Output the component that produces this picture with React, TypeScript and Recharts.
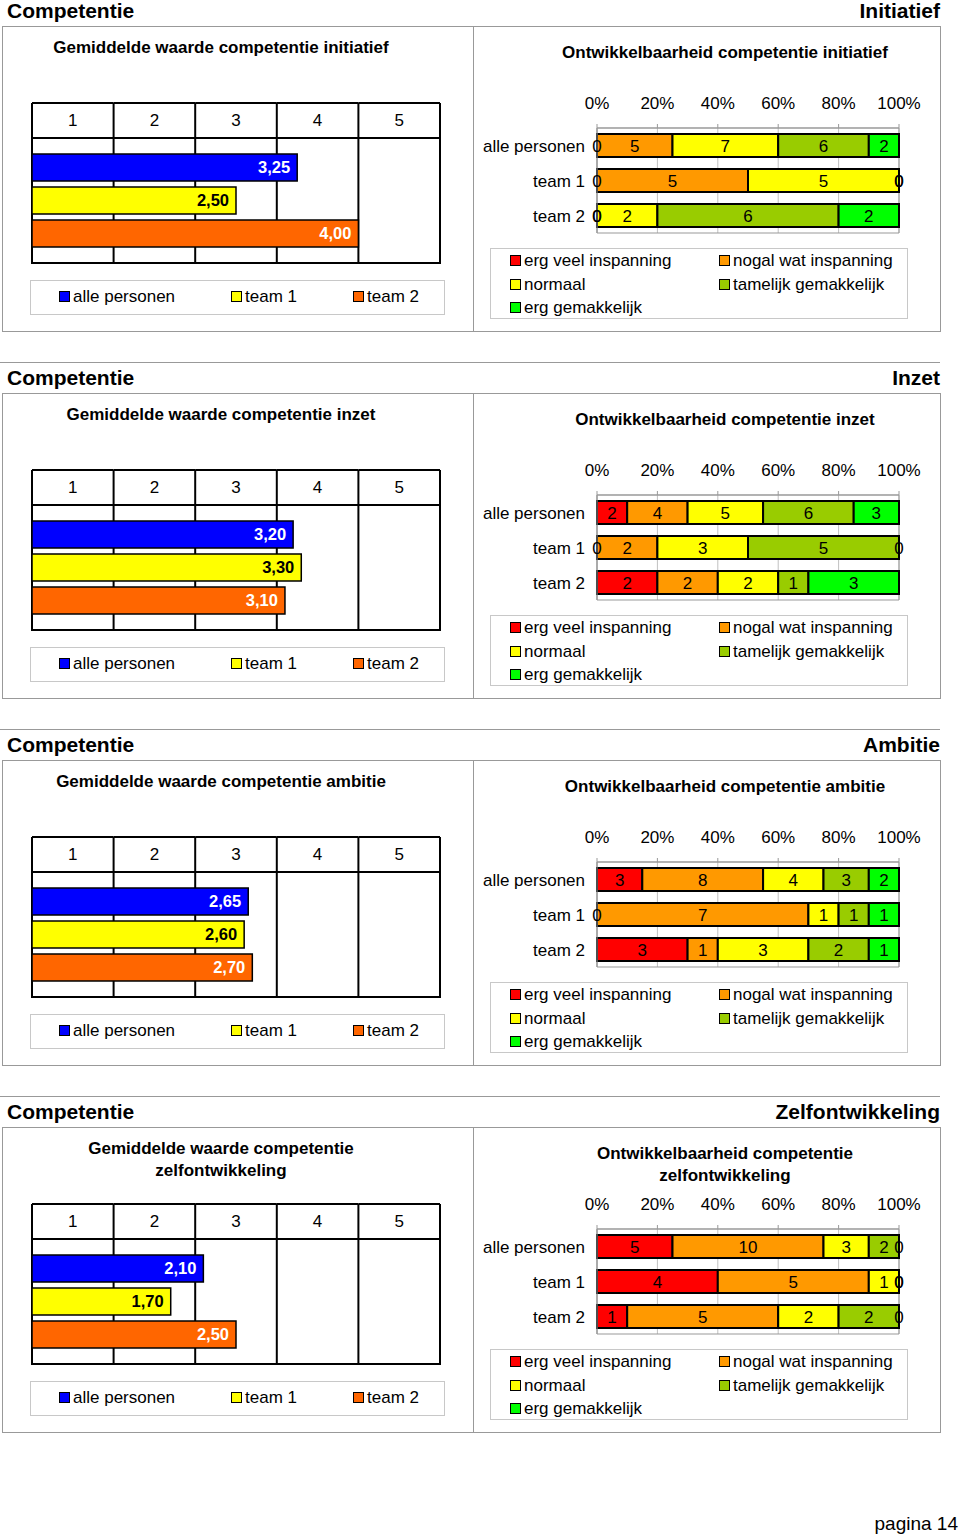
import React from 'react';
import { BarChart, ComposedChart, Bar, Scatter, XAxis, YAxis, CartesianGrid, LabelList, ReferenceArea } from 'recharts';

const FONT = '"Liberation Sans", Arial, Helvetica, sans-serif';

const COMPETENTIES = ['Initiatief', 'Inzet', 'Ambitie', 'Zelfontwikkeling'];
const AVG_TITLES = [
  ['Gemiddelde waarde competentie initiatief'],
  ['Gemiddelde waarde competentie inzet'],
  ['Gemiddelde waarde competentie ambitie'],
  ['Gemiddelde waarde competentie', 'zelfontwikkeling'],
];
const DIST_TITLES = [
  ['Ontwikkelbaarheid competentie initiatief'],
  ['Ontwikkelbaarheid competentie inzet'],
  ['Ontwikkelbaarheid competentie ambitie'],
  ['Ontwikkelbaarheid competentie', 'zelfontwikkeling'],
];

// gemiddelde waarde (schaal 1-5)
const GROUPS = ['alle personen', 'team 1', 'team 2'];
const GROUP_COLORS = ['#0000ff', '#ffff00', '#ff6600'];
const GROUP_LABEL_COLORS = ['#ffffff', '#000000', '#ffffff'];
const AVG_INITIATIEF = [3.25, 2.5, 4.0];
const AVG_INZET = [3.2, 3.3, 3.1];
const AVG_AMBITIE = [2.65, 2.6, 2.7];
const AVG_ZELF = [2.1, 1.7, 2.5];
const SCALE_GRID = [0, 1, 2, 3, 4, 5];
const SCALE_LABELS = ['1', '2', '3', '4', '5'];

// ontwikkelbaarheid (aantallen per niveau)
const LEVELS = ['erg veel inspanning', 'nogal wat inspanning', 'normaal', 'tamelijk gemakkelijk', 'erg gemakkelijk'];
const LEVEL_COLORS = ['#ff0000', '#ff9900', '#ffff00', '#99cc00', '#00ff00'];
const DIST_INITIATIEF = [[0, 5, 7, 6, 2], [0, 5, 5, 0, 0], [0, 0, 2, 6, 2]];
const DIST_INZET = [[2, 4, 5, 6, 3], [0, 2, 3, 5, 0], [2, 2, 2, 1, 3]];
const DIST_AMBITIE = [[3, 8, 4, 3, 2], [0, 7, 1, 1, 1], [3, 1, 3, 2, 1]];
const DIST_ZELF = [[5, 10, 3, 2, 0], [4, 5, 1, 0, 0], [1, 5, 2, 2, 0]];
const PCT_TICKS = [0, 0.2, 0.4, 0.6, 0.8, 1];
const PCT_LABELS = ['0%', '20%', '40%', '60%', '80%', '100%'];

const AVGS = [AVG_INITIATIEF, AVG_INZET, AVG_AMBITIE, AVG_ZELF];
const DISTS = [DIST_INITIATIEF, DIST_INZET, DIST_AMBITIE, DIST_ZELF];

const SECTION_H = 367;
const LEFT_W = 473;
const LEFT_M = { top: 13, right: 33, bottom: 17, left: 32 };
const HEADER_H = 35;
const CELL_W = (LEFT_W - LEFT_M.left - LEFT_M.right) / SCALE_LABELS.length;
const FS = 17;

const fmtComma = (v: any) => Number(v).toFixed(2).replace('.', ',');

const HeaderTick = (props: any) => {
  const { x, payload } = props;
  const i = SCALE_GRID.indexOf(payload.value);
  const top = LEFT_M.top;
  const bottom = LEFT_M.top + HEADER_H;
  return (
    <g>
      <line x1={x} x2={x} y1={top} y2={bottom} stroke="#000" strokeWidth={2} />
      {i < SCALE_LABELS.length && (
        <g>
          <line x1={x} x2={x + CELL_W} y1={top} y2={top} stroke="#000" strokeWidth={2} />
          <line x1={x} x2={x + CELL_W} y1={bottom} y2={bottom} stroke="#000" strokeWidth={2} />
          <text x={x + CELL_W / 2} y={top + 23} textAnchor="middle" fontSize={FS} fontFamily={FONT} fill="#000">
            {SCALE_LABELS[i]}
          </text>
        </g>
      )}
    </g>
  );
};

// segment label drawn on top of the stacked bars (also for empty segments)
const segLabel = (level: number) => (props: any) => {
  const { cx, cy, payload } = props;
  if (cx == null || cy == null) return <g />;
  return (
    <text x={cx} y={cy} dy="0.36em" textAnchor="middle" fontSize={FS} fontFamily={FONT} fill="#000">
      {payload['l' + level]}
    </text>
  );
};

const Swatch = ({ color }: { color: string }) => (
  <span style={{ display: 'inline-block', width: 9, height: 9, background: color, border: '1px solid #000', marginRight: 3, verticalAlign: 'middle', position: 'relative', top: -1 }} />
);

const AvgChart = ({ values }: { values: number[] }) => {
  const row: any = { cat: 'gem' };
  GROUPS.forEach((g, i) => (row['g' + i] = values[i]));
  return (
    <BarChart width={LEFT_W} height={190} data={[row]} layout="vertical" margin={LEFT_M} barSize={27} barGap={6}>
      <CartesianGrid vertical horizontal={false} stroke="#000" strokeWidth={2} />
      <XAxis type="number" orientation="top" domain={[0, 5]} ticks={SCALE_GRID} interval={0} height={HEADER_H}
        axisLine={false} tickLine={false} tick={<HeaderTick />} />
      <YAxis type="category" dataKey="cat" hide />
      <ReferenceArea x1={0} x2={5} fill="none" fillOpacity={0} stroke="#000" strokeWidth={2} />
      {GROUPS.map((g, i) => (
        <Bar key={g} dataKey={'g' + i} name={g} fill={GROUP_COLORS[i]} stroke="#000" strokeWidth={1.5} isAnimationActive={false}>
          <LabelList dataKey={'g' + i} position="insideRight" offset={7} formatter={fmtComma}
            fill={GROUP_LABEL_COLORS[i]} fontSize={16.5} fontWeight="bold" fontFamily={FONT} />
        </Bar>
      ))}
    </BarChart>
  );
};

const DistChart = ({ rows }: { rows: number[][] }) => {
  const data = GROUPS.map((g, gi) => {
    const r: any = { name: g };
    const total = rows[gi].reduce((a, b) => a + b, 0);
    let cum = 0;
    LEVELS.forEach((l, li) => {
      const v = rows[gi][li];
      r['l' + li] = v;
      r['m' + li] = (cum + v / 2) / total; // label position (share)
      cum += v;
    });
    return r;
  });
  return (
    <ComposedChart width={467} height={165} data={data} layout="vertical" stackOffset="expand" barSize={23}
      margin={{ top: 13, right: 41, bottom: 12, left: 4 }}>
      <CartesianGrid vertical horizontal={false} stroke="#c0c0c0" />
      <XAxis type="number" orientation="top" domain={[0, 1]} ticks={PCT_TICKS} interval={0} height={35}
        tickFormatter={(v: number) => PCT_LABELS[PCT_TICKS.indexOf(v)]}
        tick={{ fontSize: FS, fill: '#000', fontFamily: FONT }} tickSize={4} tickMargin={15}
        axisLine={{ stroke: '#999' }} tickLine={{ stroke: '#999' }} />
      <YAxis type="category" dataKey="name" width={120} tickLine={false} tickMargin={6} allowDuplicatedCategory={false}
        tick={{ fontSize: FS, fill: '#000', fontFamily: FONT }} axisLine={{ stroke: '#999' }} />
      <ReferenceArea x1={0} x2={1} fill="none" fillOpacity={0} stroke="#999" />
      {LEVELS.map((l, i) => (
        <Bar key={l} dataKey={'l' + i} name={l} stackId="s" fill={LEVEL_COLORS[i]} stroke="#000" strokeWidth={2} isAnimationActive={false} />
      ))}
      {LEVELS.map((l, i) => (
        <Scatter key={'lbl' + l} dataKey={'m' + i} shape={segLabel(i)} isAnimationActive={false} legendType="none" />
      ))}
    </ComposedChart>
  );
};

const Section = ({ idx }: { idx: number }) => {
  const titleStyle: React.CSSProperties = { position: 'absolute', textAlign: 'center', fontWeight: 'bold', fontSize: FS, lineHeight: '22px' };
  return (
    <div style={{ position: 'absolute', left: 0, top: idx * SECTION_H, width: 960, height: SECTION_H }}>
      {idx > 0 && <div style={{ position: 'absolute', left: 0, top: -5, width: 940, height: 1, background: '#999' }} />}
      <div style={{ position: 'absolute', left: 7, top: -1, fontWeight: 'bold', fontSize: 21, lineHeight: '24px' }}>Competentie</div>
      <div style={{ position: 'absolute', right: 20, top: -1, fontWeight: 'bold', fontSize: 21, lineHeight: '24px' }}>{COMPETENTIES[idx]}</div>
      <div style={{ position: 'absolute', left: 2, top: 26, width: 937, height: 304, border: '1px solid #999' }} />
      <div style={{ position: 'absolute', left: 473, top: 26, width: 1, height: 305, background: '#999' }} />

      <div style={{ ...titleStyle, left: 0, width: 442, top: 37 }}>
        {AVG_TITLES[idx].map((t) => <div key={t}>{t}</div>)}
      </div>
      <div style={{ position: 'absolute', left: 0, top: 90 }}>
        <AvgChart values={AVGS[idx]} />
      </div>
      <div style={{ position: 'absolute', left: 30, top: 280, width: 413, height: 33, border: '1px solid #c8c8c8', fontSize: FS }}>
        {GROUPS.map((g, i) => (
          <div key={g} style={{ position: 'absolute', left: [28, 200, 322][i], top: 6, whiteSpace: 'nowrap', lineHeight: '20px' }}>
            <Swatch color={GROUP_COLORS[i]} />{g}
          </div>
        ))}
      </div>

      <div style={{ ...titleStyle, left: 490, width: 470, top: 42 }}>
        {DIST_TITLES[idx].map((t) => <div key={t}>{t}</div>)}
      </div>
      <div style={{ position: 'absolute', left: 473, top: 80 }}>
        <DistChart rows={DISTS[idx]} />
      </div>
      <div style={{ position: 'absolute', left: 490, top: 248, width: 416, height: 69, border: '1px solid #c8c8c8', fontSize: FS }}>
        {LEVELS.map((l, i) => (
          <div key={l} style={{ position: 'absolute', left: i % 2 === 0 ? 19 : 228, top: 2 + Math.floor(i / 2) * 23.5, whiteSpace: 'nowrap', lineHeight: '20px' }}>
            <Swatch color={LEVEL_COLORS[i]} />{l}
          </div>
        ))}
      </div>
    </div>
  );
};

export default function App() {
  return (
    <div style={{ position: 'absolute', left: 0, top: 0, width: 960, height: 1537, background: '#fff', fontFamily: FONT, color: '#000', overflow: 'hidden' }}>
      {COMPETENTIES.map((c, i) => <Section key={c} idx={i} />)}
      <div style={{ position: 'absolute', right: 2, top: 1512, fontSize: 19, lineHeight: '24px' }}>pagina 14</div>
    </div>
  );
}
